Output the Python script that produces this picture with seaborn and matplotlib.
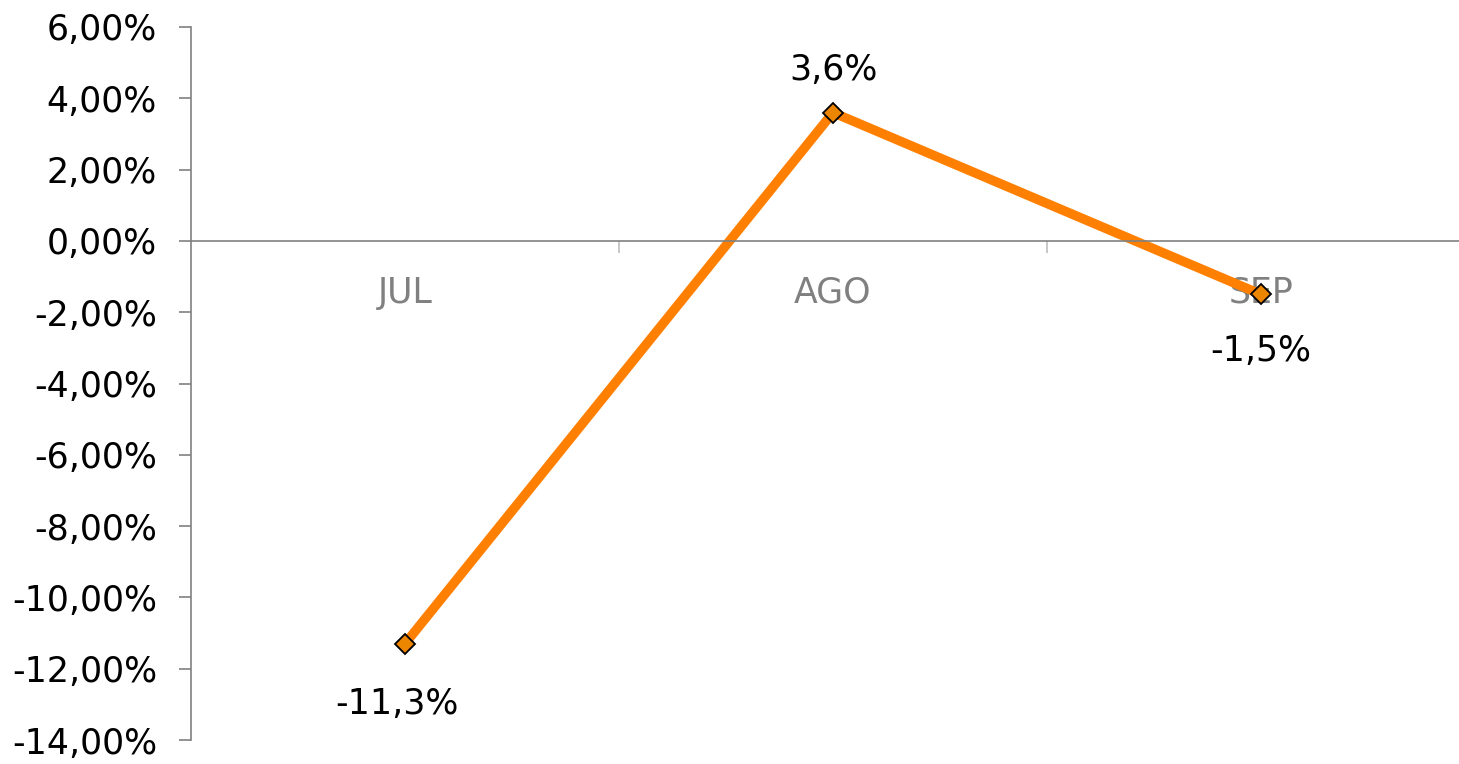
import matplotlib
matplotlib.use("Agg")
import matplotlib.pyplot as plt
import seaborn as sns
from matplotlib.ticker import FuncFormatter, FixedLocator

# monthly variation (%)
months = ["JUL", "AGO", "SEP"]
values = [-11.3, 3.6, -1.5]
labels = ["-11,3%", "3,6%", "-1,5%"]
label_offsets = [(-8, -60), (0, 43), (0, -57)]  # pixels from the marker

sns.set_style("white")
plt.rcParams['font.family'] = ['DejaVu Sans']

fig = plt.figure(figsize=(14.59, 7.64), dpi=100)
ax = fig.add_axes([191 / 1459, 1 - 740 / 764, (1475 - 191) / 1459, (740 - 27) / 764])

sns.lineplot(x=months, y=values, ax=ax, color="#FF8000", linewidth=6.8,
             marker="D", markersize=10, markerfacecolor="#EC8500",
             markeredgecolor="black", markeredgewidth=1.3, sort=False)

for i, (v, lab) in enumerate(zip(values, labels)):
    dx, dy = label_offsets[i]
    ax.annotate(lab, (i, v), xytext=(dx, dy), textcoords="offset pixels",
                ha="center", va="center", fontsize=25, color="black")

ax.set_ylim(-14, 6)
ax.set_xlim(-0.5, 2.5)
ax.set_yticks(range(-14, 7, 2))
ax.yaxis.set_major_formatter(FuncFormatter(lambda v, p: f"{v:.2f}%".replace(".", ",")))

# x axis sits on zero
ax.spines["bottom"].set_position(("data", 0))
for s in ["top", "right"]:
    ax.spines[s].set_visible(False)
for s in ["left", "bottom"]:
    ax.spines[s].set_color("#808080")
    ax.spines[s].set_linewidth(1.2)

ax.xaxis.set_minor_locator(FixedLocator([0.5, 1.5]))
ax.tick_params(axis="x", which="major", bottom=True, length=0, pad=25,
               labelsize=25, labelcolor="#808080")
ax.tick_params(axis="x", which="minor", bottom=True, length=8.5, width=1.2,
               color="#BFBFBF", direction="out")
ax.tick_params(axis="y", left=True, length=8.5, width=1.2, color="#808080",
               direction="out", labelsize=25, labelcolor="black", pad=16)
ax.set_xlabel("")
ax.set_ylabel("")

fig.savefig("out.png", dpi=100)
